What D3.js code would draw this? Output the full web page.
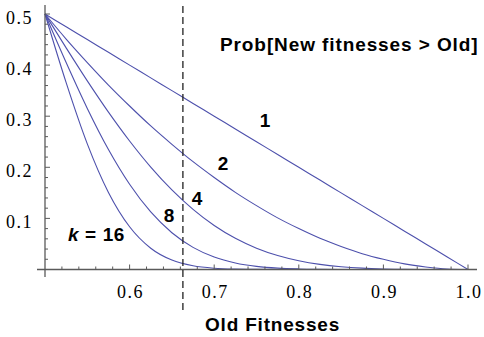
<!DOCTYPE html>
<html>
<head>
<meta charset="utf-8">
<script src="https://cdn.jsdelivr.net/npm/d3@7"></script>
<style>
  body { margin: 0; background: #fff; }
</style>
</head>
<body>
<div id="chart"></div>
<script>
// old fitness values (x) sampled every 0.025
const oldFitness = [0.5, 0.525, 0.55, 0.575, 0.6, 0.625, 0.65, 0.675, 0.7, 0.725, 0.75,
                    0.775, 0.8, 0.825, 0.85, 0.875, 0.9, 0.925, 0.95, 0.975, 1.0];

// Prob[new > old] for each k
const probK1  = [0.5, 0.475, 0.45, 0.425, 0.4, 0.375, 0.35, 0.325, 0.3, 0.275, 0.25,
                 0.225, 0.2, 0.175, 0.15, 0.125, 0.1, 0.075, 0.05, 0.025, 0];
const probK2  = [0.5, 0.451, 0.405, 0.361, 0.32, 0.281, 0.245, 0.211, 0.18, 0.151, 0.125,
                 0.101, 0.08, 0.061, 0.045, 0.031, 0.02, 0.011, 0.005, 0.001, 0];
const probK4  = [0.5, 0.4337, 0.3691, 0.308, 0.2515, 0.2005, 0.1558, 0.1177, 0.0861, 0.061, 0.0417,
                 0.0273, 0.0171, 0.01, 0.0054, 0.0026, 0.0011, 0.0003, 0.0001, 0, 0];
const probK8  = [0.5, 0.405, 0.3152, 0.2348, 0.1668, 0.1126, 0.072, 0.0433, 0.0244, 0.0128, 0.0062,
                 0.0027, 0.0011, 0.0004, 0.0001, 0, 0, 0, 0, 0, 0];
const probK16 = [0.5, 0.3657, 0.2459, 0.1508, 0.0836, 0.0416, 0.0184, 0.0072, 0.0024, 0.0007, 0.0002,
                 0, 0, 0, 0, 0, 0, 0, 0, 0, 0];

const seriesNames = ['1', '2', '4', '8', 'k = 16'];
const xTicks = [0.6, 0.7, 0.8, 0.9, 1.0];
const yTicks = [0.1, 0.2, 0.3, 0.4, 0.5];
const cutoff = 0.663;

const width = 484, height = 337;
const serif = "'Liberation Serif', 'DejaVu Serif', serif";
const sans = "'Liberation Sans', Arial, sans-serif";

let svg = d3.select('#chart')
            .append('svg')
            .attr('width', width)
            .attr('height', height);

let x = d3.scaleLinear().domain([0.5, 1.0]).range([45, 468]);
let y = d3.scaleLinear().domain([0, 0.5]).range([269.5, 14]);

const axisColor = '#5a5a5a';
const lineColor = '#4d50ac';

// curves
let line = d3.line()
             .x((d, i) => x(oldFitness[i]))
             .y((d) => y(d))
             .curve(d3.curveMonotoneX);

[probK1, probK2, probK4, probK8, probK16].forEach((s) => {
  svg.append('path')
     .attr('d', line(s))
     .attr('fill', 'none')
     .attr('stroke', lineColor)
     .attr('stroke-width', 1.1);
});

// minor ticks
let yMinor = d3.range(0.02, 0.5001, 0.02);
let xMinor = d3.range(0.52, 1.0001, 0.02);
let isMajor = (d) => Math.abs(d * 10 - Math.round(d * 10)) < 1e-6;

// axes lines
svg.append('line')
   .attr('x1', 37).attr('x2', 477)
   .attr('y1', y(0)).attr('y2', y(0))
   .attr('stroke', axisColor).attr('stroke-width', 1.3);
svg.append('line')
   .attr('x1', x(0.5)).attr('x2', x(0.5))
   .attr('y1', 5).attr('y2', 277)
   .attr('stroke', axisColor).attr('stroke-width', 1.3);

svg.selectAll('.ymin')
   .data(yMinor)
   .enter()
   .append('line')
   .attr('x1', x(0.5))
   .attr('x2', (d) => x(0.5) + (isMajor(d) ? 5 : 3))
   .attr('y1', (d) => y(d)).attr('y2', (d) => y(d))
   .attr('stroke', axisColor);

svg.selectAll('.xmin')
   .data(xMinor)
   .enter()
   .append('line')
   .attr('x1', (d) => x(d)).attr('x2', (d) => x(d))
   .attr('y1', y(0))
   .attr('y2', (d) => y(0) - (isMajor(d) ? 5 : 3))
   .attr('stroke', axisColor);

// tick labels
svg.selectAll('.ylab')
   .data(yTicks)
   .enter()
   .append('text')
   .attr('font-family', serif)
   .attr('font-size', 18)
   .attr('letter-spacing', 1.5)
   .attr('x', 33)
   .attr('y', (d) => y(d) + 9.5)
   .attr('text-anchor', 'end')
   .text((d) => d.toFixed(1));

svg.selectAll('.xlab')
   .data(xTicks)
   .enter()
   .append('text')
   .attr('font-family', serif)
   .attr('font-size', 18)
   .attr('letter-spacing', 1.5)
   .attr('x', (d) => x(d) + 1)
   .attr('y', 298)
   .attr('text-anchor', 'middle')
   .text((d) => d.toFixed(1));

// dashed cutoff line
svg.append('line')
   .attr('x1', x(cutoff)).attr('x2', x(cutoff))
   .attr('y1', 6).attr('y2', 312)
   .attr('stroke', '#222')
   .attr('stroke-width', 1.3)
   .attr('stroke-dasharray', '7,4');

// curve labels
let labelPos = [[265, 127], [223, 170], [197, 205], [169, 222], [68, 241]];
seriesNames.forEach((n, i) => {
  let t = svg.append('text')
             .attr('font-family', sans)
             .attr('font-weight', 'bold')
             .attr('x', labelPos[i][0])
             .attr('y', labelPos[i][1])
             .attr('font-size', 19)
             .attr('text-anchor', i === 4 ? 'start' : 'middle');
  if (i === 4) {
    t.attr('letter-spacing', 0.6);
    t.append('tspan').attr('font-style', 'italic').text('k');
    t.append('tspan').text(' = 16');
  } else {
    t.text(n);
  }
});

// titles
svg.append('text')
   .attr('font-family', sans)
   .attr('font-weight', 'bold')
   .attr('x', 220)
   .attr('y', 51)
   .attr('font-size', 19)
   .attr('letter-spacing', 0.9)
   .text('Prob[New fitnesses > Old]');

svg.append('text')
   .attr('font-family', sans)
   .attr('font-weight', 'bold')
   .attr('x', 205)
   .attr('y', 331)
   .attr('font-size', 19)
   .attr('letter-spacing', 0.8)
   .text('Old Fitnesses');
</script>
</body>
</html>
